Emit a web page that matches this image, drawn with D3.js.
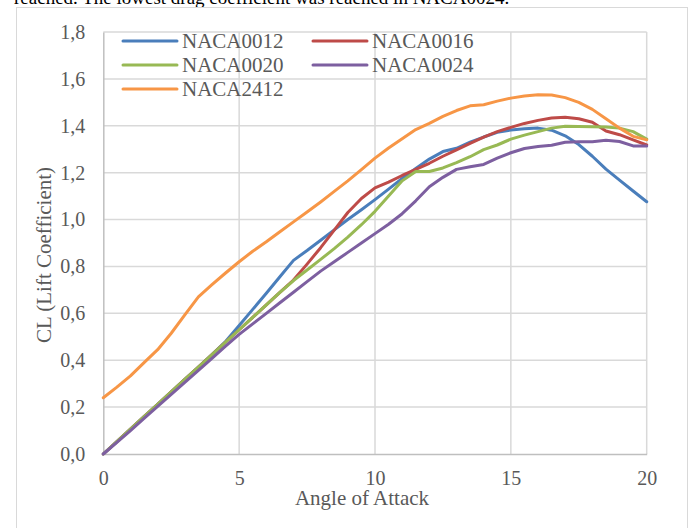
<!DOCTYPE html>
<html>
<head>
<meta charset="utf-8">
<script src="https://cdn.jsdelivr.net/npm/d3@7"></script>
<style>
  html, body { margin: 0; padding: 0; background: #fff; }
  svg { display: block; }
</style>
</head>
<body>
<svg id="chart" width="692" height="528"></svg>
<script>
// Angle of attack (degrees), sampled every half degree
const angles = [0, 0.5, 1, 1.5, 2, 2.5, 3, 3.5, 4, 4.5, 5, 5.5, 6, 6.5, 7, 7.5, 8, 8.5, 9, 9.5,
                10, 10.5, 11, 11.5, 12, 12.5, 13, 13.5, 14, 14.5, 15, 15.5, 16, 16.5, 17, 17.5, 18, 18.5, 19, 19.5, 20];

// Lift coefficient per airfoil
const naca0012 = [0, 0.053, 0.106, 0.159, 0.212, 0.265, 0.318, 0.371, 0.424, 0.48, 0.548, 0.617, 0.686, 0.756, 0.826,
                  0.868, 0.912, 0.956, 1.0, 1.042, 1.085, 1.13, 1.175, 1.218, 1.258, 1.29, 1.304, 1.33, 1.352, 1.372,
                  1.382, 1.387, 1.39, 1.381, 1.357, 1.32, 1.27, 1.215, 1.168, 1.122, 1.076];
const naca0016 = [0, 0.053, 0.106, 0.159, 0.212, 0.265, 0.318, 0.371, 0.424, 0.477, 0.53, 0.583, 0.636, 0.689, 0.742,
                  0.81, 0.88, 0.955, 1.03, 1.09, 1.135, 1.16, 1.188, 1.214, 1.24, 1.27, 1.297, 1.325, 1.352, 1.375,
                  1.393, 1.41, 1.423, 1.433, 1.436, 1.43, 1.415, 1.378, 1.362, 1.34, 1.318];
const naca0020 = [0, 0.053, 0.106, 0.159, 0.212, 0.265, 0.318, 0.371, 0.424, 0.477, 0.53, 0.583, 0.636, 0.689, 0.74,
                  0.785, 0.83, 0.876, 0.925, 0.978, 1.035, 1.1, 1.165, 1.205, 1.205, 1.22, 1.243, 1.268, 1.298, 1.318,
                  1.343, 1.36, 1.375, 1.39, 1.398, 1.397, 1.396, 1.395, 1.39, 1.375, 1.343];
const naca0024 = [0, 0.05, 0.1, 0.152, 0.203, 0.254, 0.305, 0.357, 0.408, 0.46, 0.51, 0.555, 0.6, 0.645, 0.69,
                  0.735, 0.78, 0.82, 0.86, 0.9, 0.94, 0.98, 1.025, 1.08, 1.14, 1.18, 1.214, 1.225, 1.235, 1.262,
                  1.285, 1.303, 1.312, 1.317, 1.33, 1.332, 1.332, 1.338, 1.333, 1.314, 1.314];
const naca2412 = [0.24, 0.285, 0.333, 0.39, 0.445, 0.515, 0.593, 0.67, 0.722, 0.772, 0.82, 0.865, 0.905, 0.948, 0.99,
                  1.032, 1.075, 1.12, 1.165, 1.213, 1.262, 1.305, 1.345, 1.384, 1.41, 1.44, 1.465, 1.485, 1.49, 1.505,
                  1.518, 1.527, 1.532, 1.531, 1.52, 1.5, 1.47, 1.43, 1.39, 1.355, 1.34];

const seriesNames = ["NACA0012", "NACA0016", "NACA0020", "NACA0024", "NACA2412"];
const seriesValues = [naca0012, naca0016, naca0020, naca0024, naca2412];
const seriesColors = ["#4A7EBB", "#BE4B48", "#98B954", "#7D5FA0", "#F79646"];

const xTicks = [0, 5, 10, 15, 20];
const yTicks = [0, 0.2, 0.4, 0.6, 0.8, 1.0, 1.2, 1.4, 1.6, 1.8];

const svg = d3.select("#chart");
const serif = "'Liberation Serif', 'Times New Roman', serif";
const textGray = "#595959";

// Caption line above the chart frame (only its lower part shows)
svg.append("text")
  .attr("x", 14).attr("y", 4)
  .attr("font-family", serif).attr("font-size", 19)
  .attr("fill", "#000")
  .text("reached. The lowest drag coefficient was reached in NACA0024.");

// Chart frame
svg.append("rect")
  .attr("x", 16.5).attr("y", 7.5)
  .attr("width", 671).attr("height", 560)
  .attr("fill", "#fff").attr("stroke", "#d9d9d9").attr("stroke-width", 1);

const x = d3.scaleLinear().domain([0, 20]).range([103.3, 646.7]);
const y = d3.scaleLinear().domain([0, 1.8]).range([454, 32]);

const fmt = d => d3.format(".1f")(d).replace(".", ",");

// Gridlines
svg.append("g").selectAll("line.h").data(yTicks.slice(1)).join("line")
  .attr("x1", x(0)).attr("x2", x(20))
  .attr("y1", d => y(d)).attr("y2", d => y(d))
  .attr("stroke", "#d9d9d9").attr("stroke-width", 1.5);
svg.append("g").selectAll("line.v").data(xTicks.slice(1)).join("line")
  .attr("x1", d => x(d)).attr("x2", d => x(d))
  .attr("y1", y(0)).attr("y2", y(1.8))
  .attr("stroke", "#d9d9d9").attr("stroke-width", 1.5);

// Axes
const xAxis = svg.append("g")
  .attr("transform", `translate(0,${y(0)})`)
  .call(d3.axisBottom(x).tickValues(xTicks).tickSize(0).tickPadding(17).tickFormat(d3.format("d")));
const yAxis = svg.append("g")
  .attr("transform", `translate(${x(0)},0)`)
  .call(d3.axisLeft(y).tickValues(yTicks).tickSize(0).tickPadding(18).tickFormat(fmt));
[xAxis, yAxis].forEach(g => {
  g.select(".domain").attr("stroke", "#bfbfbf").attr("stroke-width", 1.5);
  g.selectAll("text").attr("font-family", serif).attr("font-size", 20).attr("fill", textGray);
});

// Axis titles
svg.append("text")
  .attr("x", 362).attr("y", 505)
  .attr("text-anchor", "middle")
  .attr("font-family", serif).attr("font-size", 21).attr("fill", textGray)
  .text("Angle of Attack");
svg.append("text")
  .attr("transform", "translate(51,255) rotate(-90)")
  .attr("text-anchor", "middle")
  .attr("font-family", serif).attr("font-size", 21).attr("fill", textGray)
  .text("CL (Lift Coefficient)");

// Series lines
const line = d3.line()
  .x((d, i) => x(angles[i]))
  .y(d => y(d));
svg.append("g").selectAll("path").data(seriesValues).join("path")
  .attr("d", d => line(d))
  .attr("fill", "none")
  .attr("stroke", (d, i) => seriesColors[i])
  .attr("stroke-width", 3)
  .attr("stroke-linejoin", "round")
  .attr("stroke-linecap", "round");

// Legend, two columns
const legendCols = [123, 313];
const legendRows = [41, 65, 89];
const legend = svg.append("g").selectAll("g").data(seriesNames).join("g")
  .attr("transform", (d, i) => `translate(${legendCols[i % 2]},${legendRows[Math.floor(i / 2)]})`);
legend.append("line")
  .attr("x1", 0).attr("x2", 54).attr("y1", 0).attr("y2", 0)
  .attr("stroke", (d, i) => seriesColors[i]).attr("stroke-width", 3)
  .attr("stroke-linecap", "round");
legend.append("text")
  .attr("x", 59).attr("y", 7)
  .attr("font-family", serif).attr("font-size", 21).attr("fill", textGray)
  .text(d => d);
</script>
</body>
</html>
